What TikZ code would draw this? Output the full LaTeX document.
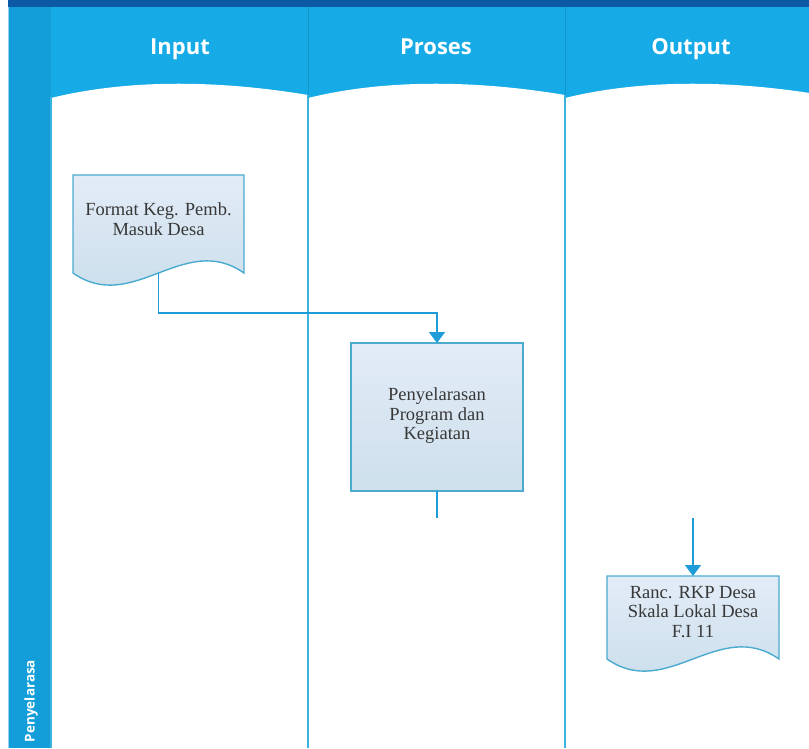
\documentclass[tikz,border=0pt]{standalone}
\usepackage{fontspec}
\setmainfont{Liberation Serif}
\newfontfamily\headfont{Open Sans}
\usetikzlibrary{arrows.meta,calc}

\definecolor{barblue}{HTML}{0C5AA6}
\definecolor{headblue}{HTML}{16ABE7}
\definecolor{bandblue}{HTML}{139ED9}
\definecolor{laneline}{HTML}{3CB3DF}
\definecolor{flowblue}{HTML}{1E9CD8}
\definecolor{shapeedge}{HTML}{4AABCE}
\definecolor{filltop}{HTML}{E2ECF7}
\definecolor{fillbot}{HTML}{C8DCEA}
\definecolor{txt}{HTML}{383838}

\tikzset{
  area/.style={inner sep=0pt, outer sep=0pt, draw=none},
  doctext/.style={align=center, text=txt, inner sep=0pt,
    font=\fontsize{18.5}{19.5}\selectfont},
  docstyle/.style={draw=shapeedge, line width=1.4pt, top color=filltop, bottom color=fillbot},
  procstyle/.style={draw=shapeedge, line width=2pt, top color=filltop, bottom color=fillbot!90!white},
  flow/.style={draw=flowblue, line width=1.8pt},
  flowarrow/.style={flow, -{Triangle[width=16pt,length=11pt]}},
  lanetitle/.style={text=white, anchor=base, font=\headfont\bfseries\fontsize{22}{26}\selectfont},
}

% document symbol: flat top, wavy bottom hanging below the node's south side
\newcommand\docoutline[1]{%
  \draw[docstyle] (#1.north west) -- (#1.north east) -- (#1.south east)
    .. controls ($(#1.south west)!0.65!(#1.south east)+(0,-42)$)
       and ($(#1.south west)!0.35!(#1.south east)+(0,42)$) .. (#1.south west) -- cycle;}

% white swim-lane body with a bulging top edge
\newcommand\lanebody[2]{%
  \fill[white] (#1,98) .. controls ({#1+0.3*(#2-#1)},79) and ({#1+0.65*(#2-#1)},80) .. (#2,95)
    -- (#2,748) -- (#1,748) -- cycle;}

\begin{document}
\begin{tikzpicture}[x=1pt,y=-1pt]
  \useasboundingbox (0,0) rectangle (809,748);
  \fill[white] (0,0) rectangle (809,748);

  % header band and title bar
  \fill[headblue] (50,7) rectangle (809,112);
  \fill[barblue] (8,0) rectangle (809,7);
  \fill[bandblue] (8,7) rectangle (51,748);
  \draw[white!55!bandblue, line width=1pt] (8.5,7) -- (8.5,748);

  % lane bodies
  \lanebody{51}{308}
  \lanebody{308}{565}
  \lanebody{565}{822}

  % lane separators
  \draw[headblue!88!black, line width=0.6pt] (308,7) -- (308,95) (565,7) -- (565,95);
  \draw[laneline, line width=1.6pt] (51,97) -- (51,748) (308,95) -- (308,748) (565,95) -- (565,748);

  % lane titles
  \node[lanetitle] (tin) at (180,54) {Input};
  \node[lanetitle] (tproc) at (436,54) {Proses};
  \node[lanetitle] (tout) at (691,54) {Output};

  % side label
  \node[rotate=90, text=white, font=\headfont\bfseries\fontsize{13.5}{15}\selectfont] (side) at (31,701) {Penyelarasa};

  % shapes
  \node[area, minimum width=171pt, minimum height=98pt] (doc1) at (158.5,224) {};
  \docoutline{doc1}
  \node[doctext] (doc1text) at (158.5,219) {Format Keg. Pemb.\\Masuk Desa};

  \node[area, minimum width=172pt, minimum height=148pt] (proc) at (437,417) {};
  \draw[procstyle] (proc.north west) rectangle (proc.south east);
  \node[doctext] (proctext) at (437,416) {Penyelarasan\\Program dan\\Kegiatan};

  \node[area, minimum width=172pt, minimum height=83pt] (doc2) at (693,617.5) {};
  \docoutline{doc2}
  \node[doctext] (doc2text) at (693,612) {Ranc. RKP Desa\\Skala Lokal Desa\\F.I 11};

  % connectors
  \coordinate (procend) at (437,518);
  \coordinate (outstart) at (693,518);
  \draw[flowarrow] (doc1.south) -- ++(0,40) -| (proc.north);
  \draw[flow] (proc.south) -- (procend);
  \draw[flowarrow] (outstart) -- (doc2.north);
\end{tikzpicture}
\end{document}
